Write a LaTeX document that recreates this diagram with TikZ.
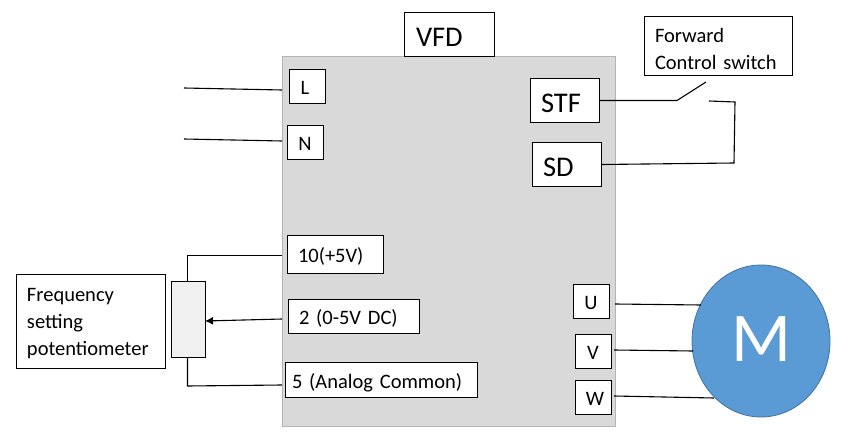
\documentclass[tikz,border=0pt]{standalone}
\usepackage{fontspec}
\setmainfont{Carlito}
\usetikzlibrary{arrows.meta,shapes.geometric}
\definecolor{panel}{HTML}{D9D9D9}
\definecolor{panelline}{HTML}{B4B4B4}
\definecolor{motor}{HTML}{5B9BD5}
\definecolor{motorline}{HTML}{41719C}
\definecolor{potfill}{HTML}{F0F0F0}
\tikzset{
  box/.style={draw=black,fill=white,line width=1pt,anchor=north west,outer sep=0pt,inner ysep=0pt,align=left,yshift=-0.5pt},
  tbox/.style={box,font=\fontsize{20.5}{27}\selectfont},
  sbox/.style={tbox,text height=16.5pt,text depth=0pt},
  cbox/.style={box,font=\fontsize{20.5}{27}\selectfont,inner xsep=0pt,align=center,text height=16pt,text depth=0pt},
  bigbox/.style={box,font=\fontsize{28.5}{30}\selectfont,text height=24.5pt,text depth=0pt},
  wire/.style={draw=black,line width=1.1pt},
}
\begin{document}
\begin{tikzpicture}[x=1pt,y=-1pt]
\useasboundingbox (0,0) rectangle (854,441);
\node (main) [draw=panelline,fill=panel,line width=1pt,anchor=north west,outer sep=0pt,minimum width=333pt,minimum height=370pt,yshift=-0.5pt] at (282,56) {};
\node (vfd) [bigbox,text width=66pt,inner xsep=12pt,minimum height=44pt] at (404,12) {VFD};
\node (L) [cbox,minimum width=36pt,minimum height=34pt] at (289,69) {L\hspace{4pt}};
\node (N) [cbox,minimum width=36pt,minimum height=34pt] at (287,125) {N};
\node (ten) [sbox,text width=74pt,inner xsep=11pt,minimum height=38pt] at (287,235) {10(+5V)};
\node (two) [sbox,text width=109pt,inner xsep=11pt,minimum height=34pt] at (288,299) {2 (0-5V DC)};
\node (five) [sbox,text width=178pt,inner xsep=7pt,minimum height=35pt] at (285,362) {5 (Analog Common)};
\node (stf) [bigbox,text width=47pt,inner xsep=11pt,minimum height=44pt] at (530,78) {STF};
\node (sd) [bigbox,text width=47pt,inner xsep=11pt,minimum height=44pt] at (532,142) {SD};
\node (fwd) [tbox,text width=126pt,inner xsep=11pt,minimum height=59pt] at (644,16) {\rule{0pt}{20pt}Forward\\Control switch};
\node (U) [cbox,minimum width=36pt,minimum height=34pt] at (573,284) {U};
\node (V) [cbox,minimum width=36pt,minimum height=34pt] at (575,334) {V};
\node (W) [cbox,minimum width=36pt,minimum height=34pt] at (575,380) {\hspace{4pt}W};
\node (freq) [tbox,text width=127pt,inner xsep=11pt,minimum height=94pt] at (16,274) {\rule{0pt}{17pt}Frequency\\setting\\potentiometer};
\node (pot) [draw=black,fill=potfill,line width=1pt,anchor=north west,outer sep=0pt,minimum width=34pt,minimum height=76pt] at (171,281) {};
\node (M) [draw=motorline,fill=motor,line width=0.8pt,shape=ellipse,outer sep=0pt,inner sep=0pt,minimum width=138pt,minimum height=152pt,text=white,font=\fontsize{70}{72}\selectfont,text height=45pt,text depth=5pt] at (761,341) {M};
\coordinate (lfree) at (184,88);
\coordinate (nfree) at (184,139);
\coordinate (sw1) at (677,100.5);
\coordinate (sw2) at (706,82);
\coordinate (sw3) at (709,101);
\coordinate (sw4) at (735,102);
\coordinate (sw5) at (734,163);
\coordinate (tentop) at (187.5,255.5);
\coordinate (fivebot) at (187.5,386);
\coordinate (wiper) at (205,321);
\draw[wire] (lfree) -- (282,90);
\draw[wire] (nfree) -- (282,141);
\draw[wire] (282,255.5) -- (tentop) -- (pot.north -| tentop);
\draw[wire] (282,385) -- (fivebot) -- (pot.south -| fivebot);
\draw[wire,-{Latex[length=8pt,width=8pt]}] (282,319) -- (wiper);
\draw[wire] (stf.east) -- (sw1) -- (sw2);
\draw[wire] (sw3) -- (sw4) -- (sw5) -- (sd.east);
\draw[wire] (615,304) -- (701,305);
\draw[wire] (614,350) -- (693,351);
\draw[wire] (614,396) -- (714,398);
\end{tikzpicture}
\end{document}
